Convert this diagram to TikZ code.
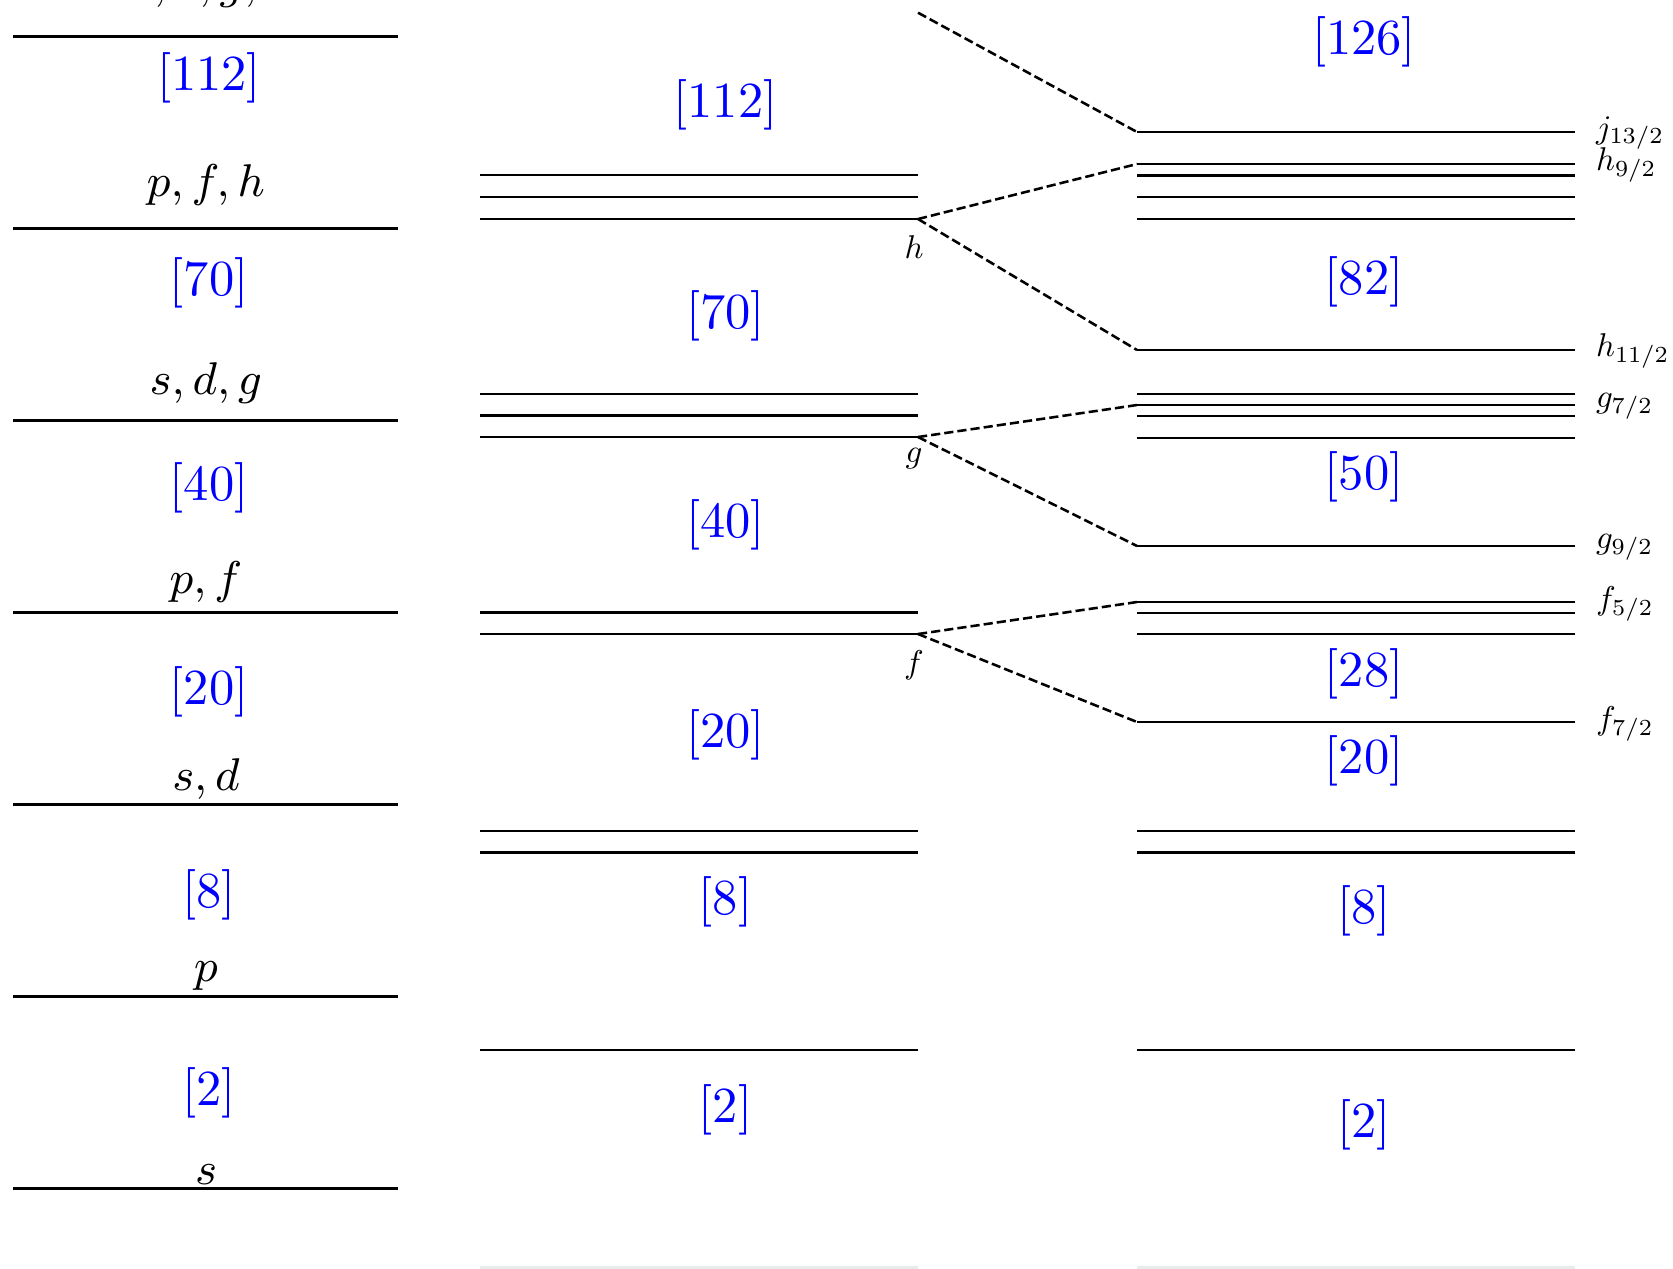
\documentclass[tikz,border=0pt]{standalone}
\newcommand{\smallsc}[1]{\scalebox{0.645}{$#1$}}
\begin{document}
\begin{tikzpicture}[x=0.196pt,y=-0.196pt,
  lvl/.style={line width=0.55pt},
  faint/.style={line width=0.55pt, black!8},
  split/.style={line width=0.5pt, dash pattern=on 1.8pt off 0.8pt},
  magic/.style={text=blue, font=\fontsize{9.9}{12}\selectfont, inner sep=0pt},
  orb/.style={font=\fontsize{9.3}{11}\selectfont, inner sep=0pt},
  jlab/.style={font=\fontsize{10}{12}\selectfont, inner sep=0pt, anchor=west},
  llab/.style={font=\fontsize{10}{12}\selectfont, inner sep=0pt, anchor=base}]
\useasboundingbox (0,0) rectangle (1673,1268);
\clip (0,0) rectangle (1673,1268);
% left column
\foreach \y in {36.3,228.3,420.4,612.4,804.5,996.5,1188.6}
  \draw[lvl] (13,\y) -- (398,\y);
\node[orb, anchor=base] (L0) at (206,-2) {$s, d, g, i$};
\node[orb] (L1) at (206,185.5) {$p, f, h$};
\node[orb] (L2) at (206,383.5) {$s, d, g$};
\node[orb] (L3) at (206,582) {$p, f$};
\node[orb] (L4) at (206,778.5) {$s, d$};
\node[orb] (L5) at (206,976) {$p$};
\node[orb] (L6) at (206,1174.6) {$s$};
\node[magic] (M112L) at (209,77.7) {[112]};
\node[magic] (M70L) at (209,282.5) {[70]};
\node[magic] (M40L) at (209,487.4) {[40]};
\node[magic] (M20L) at (209,691.7) {[20]};
\node[magic] (M8L) at (209,894.5) {[8]};
\node[magic] (M2L) at (209,1093) {[2]};
% middle column
\foreach \y in {175,197,219,394,415.5,437,612.5,634,831,852.5,1050}
  \draw[lvl] (480,\y) -- (918,\y);
\draw[faint] (480,1267.5) -- (918,1267.5);
\node[magic] (M112M) at (725.5,104.4) {[112]};
\node[magic] (M70M) at (725.5,315.6) {[70]};
\node[magic] (M40M) at (725.5,524.7) {[40]};
\node[magic] (M20M) at (725.5,735) {[20]};
\node[magic] (M8M) at (725.5,902) {[8]};
\node[magic] (M2M) at (725.5,1110) {[2]};
\node[llab] (lh) at (914,258) {\smallsc{h}};
\node[llab] (lg) at (914,462) {\smallsc{g}};
\node[llab] (lf) at (914,673) {\smallsc{f}};
% right column
\foreach \y in {132,164,175.5,197,219,350,394,405,416,438,546,602,613,634,722,831,852.5,1050}
  \draw[lvl] (1137,\y) -- (1575,\y);
\draw[faint] (1137,1267.5) -- (1575,1267.5);
\node[magic] (M126R) at (1364,42) {[126]};
\node[magic] (M82R) at (1364,282) {[82]};
\node[magic] (M50R) at (1364,476.8) {[50]};
\node[magic] (M28R) at (1364,673.5) {[28]};
\node[magic] (M20R) at (1364,760.6) {[20]};
\node[magic] (M8R) at (1364,910.5) {[8]};
\node[magic] (M2R) at (1364,1124.5) {[2]};
\node[jlab] (j13) at (1595,133) {\smallsc{j_{13/2}}};
\node[jlab] (h9) at (1595,165) {\smallsc{h_{9/2}}};
\node[jlab] (h11) at (1595,351) {\smallsc{h_{11/2}}};
\node[jlab] (g7) at (1595,406) {\smallsc{g_{7/2}}};
\node[jlab] (g9) at (1595,547) {\smallsc{g_{9/2}}};
\node[jlab] (f5) at (1595,604) {\smallsc{f_{5/2}}};
\node[jlab] (f7) at (1595,724) {\smallsc{f_{7/2}}};
% splitting connectors
\coordinate (mi) at (918,12.7);
\coordinate (mh) at (918,219);
\coordinate (mg) at (918,437);
\coordinate (mf) at (918,634);
\coordinate (rj) at (1137,132);
\coordinate (rh9) at (1137,164);
\coordinate (rh11) at (1137,350);
\coordinate (rg7) at (1137,405);
\coordinate (rg9) at (1137,546);
\coordinate (rf5) at (1137,602);
\coordinate (rf7) at (1137,722);
\draw[split] (mi) -- (rj);
\draw[split] (mh) -- (rh9);
\draw[split] (mh) -- (rh11);
\draw[split] (mg) -- (rg7);
\draw[split] (mg) -- (rg9);
\draw[split] (mf) -- (rf5);
\draw[split] (mf) -- (rf7);
\end{tikzpicture}
\end{document}
